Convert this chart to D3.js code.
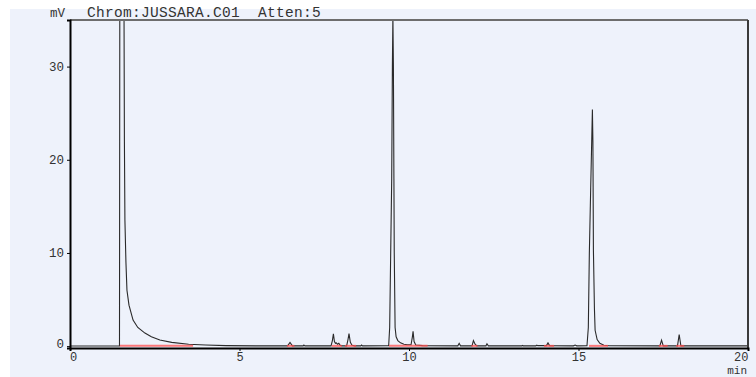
<!DOCTYPE html>
<html>
<head>
<meta charset="utf-8">
<script src="https://cdn.jsdelivr.net/npm/d3@7"></script>
<style>
    body { margin: 0; background: #fff; }
    svg { display: block; }
    text { font-family: "Liberation Mono", "DejaVu Sans Mono", monospace; fill: #333; }
</style>
</head>
<body>
<svg id="chrom" width="756" height="377"></svg>
<script>
"use strict";

const left = 70;
const top_ = 20;
const right = 748;
const bottom = 348;

// chromatogram trace (min, mV)
const traceTime = [
    0, 1.46, 1.47, 1.59, 1.605, 1.62, 1.65, 1.68, 1.74, 1.86, 2.0, 2.21, 2.4, 2.65, 3.0, 3.5, 4.0, 4.6, 5.5,
    6.42, 6.49, 6.56, 6.88, 6.9, 6.93,
    7.70, 7.74, 7.77, 7.80, 7.83, 7.86, 7.89, 7.93, 7.97, 8.02,
    8.16, 8.20, 8.23, 8.27, 8.32, 8.4, 8.58, 8.6, 8.63,
    9.40, 9.43, 9.46, 9.49, 9.51, 9.525, 9.54, 9.555, 9.565, 9.59, 9.62, 9.67, 9.75, 9.85, 9.95,
    10.06, 10.1, 10.12, 10.15, 10.2, 10.4,
    11.44, 11.48, 11.52, 11.86, 11.9, 11.95, 12.0, 12.27, 12.3, 12.34,
    13.33, 13.35, 13.37, 13.74, 13.77, 13.8, 14.05, 14.1, 14.15, 14.85, 14.9, 14.95,
    15.25, 15.29, 15.32, 15.36, 15.39, 15.41, 15.425, 15.44, 15.47, 15.49, 15.55, 15.63, 15.75, 15.9,
    17.40, 17.45, 17.5, 17.92, 17.97, 18.02, 20
];
const traceMv = [
    0.02, 0.02, 40, 40, 22, 13.5, 9, 6.0, 4.4, 2.8, 2.0, 1.4, 1.0, 0.65, 0.4, 0.2, 0.12, 0.06, 0.03,
    0.03, 0.4, 0.03, 0.03, 0.12, 0.03,
    0.03, 0.6, 1.33, 0.5, 0.3, 0.35, 0.2, 0.3, 0.1, 0.03,
    0.03, 0.7, 1.35, 0.4, 0.1, 0.03, 0.03, 0.12, 0.03,
    0.05, 2, 10, 18, 30, 35.4, 30, 18, 10, 2, 1.0, 0.6, 0.35, 0.2, 0.15,
    0.15, 1.0, 1.6, 0.5, 0.12, 0.05,
    0.03, 0.3, 0.03, 0.03, 0.6, 0.2, 0.03, 0.03, 0.25, 0.03,
    0.03, 0.08, 0.03, 0.03, 0.1, 0.05, 0.05, 0.35, 0.05, 0.03, 0.12, 0.03,
    0.05, 2, 10, 17, 22, 25.4, 22, 10.3, 4, 1.7, 0.7, 0.3, 0.1, 0.04,
    0.03, 0.65, 0.03, 0.03, 1.25, 0.03, 0.03
];

// integration baselines (red), start / end in min
const baseStart = [1.47, 6.40, 7.72, 8.11, 9.41, 11.84, 13.98, 15.31, 17.37, 17.88];
const baseEnd   = [3.63, 6.62, 8.02, 8.44, 10.55, 12.02, 14.28, 15.87, 17.63, 18.12];

const xTicks = [0, 5, 10, 15, 20];
const yTicks = [0, 10, 20, 30];

const svg = d3.select("svg#chrom");

// background panel
svg.append("rect")
    .attr("x", 10).attr("y", 9)
    .attr("width", 746).attr("height", 368)
    .attr("fill", "#eef2fb");

const xScale = d3.scaleLinear().domain([0, 20]).range([left, right]);
const yScale = d3.scaleLinear().domain([-0.2, 35]).range([bottom, top_]);

svg.append("clipPath").attr("id", "plot-clip")
    .append("rect")
    .attr("x", left).attr("y", top_)
    .attr("width", right - left).attr("height", bottom - top_);

const points = traceTime.map((t, i) => [t, traceMv[i]]);
const line = d3.line()
    .x(d => xScale(d[0]))
    .y(d => yScale(d[1]));

const plot = svg.append("g").attr("clip-path", "url(#plot-clip)");

plot.append("path")
    .datum(points)
    .attr("d", line)
    .attr("fill", "none")
    .attr("stroke", "#2a2a2a")
    .attr("stroke-width", 1.1);

plot.selectAll("line.base")
    .data(baseStart)
    .join("line")
    .attr("class", "base")
    .attr("x1", d => xScale(d))
    .attr("x2", (d, i) => xScale(baseEnd[i]))
    .attr("y1", yScale(0.03))
    .attr("y2", yScale(0.03))
    .attr("stroke", "#ff4d4d")
    .attr("stroke-opacity", 0.75)
    .attr("stroke-width", 2);

// frame
svg.append("line")
    .attr("x1", left).attr("x2", right).attr("y1", top_).attr("y2", top_)
    .attr("stroke", "#6d6d6d").attr("stroke-width", 2);
svg.append("line")
    .attr("x1", right).attr("x2", right).attr("y1", top_).attr("y2", bottom)
    .attr("stroke", "#3a3a3a").attr("stroke-width", 2);

// axes
const xAxis = d3.axisBottom(xScale)
    .tickValues(xTicks)
    .tickSize(3)
    .tickPadding(1)
    .tickFormat(d3.format("d"));
const gx = svg.append("g")
    .attr("transform", `translate(0,${bottom})`)
    .call(xAxis);
gx.select(".domain").attr("stroke", "#000").attr("stroke-width", 2);
gx.selectAll(".tick line").attr("stroke", "#000");
gx.selectAll(".tick text")
    .attr("font-size", 12)
    .attr("font-family", "Liberation Mono");
gx.selectAll(".tick text").filter(d => d === 20)
    .attr("text-anchor", "end")
    .attr("x", 0);
gx.selectAll(".tick text").filter(d => d === 0)
    .attr("x", 3);

const yAxis = d3.axisLeft(yScale)
    .tickValues(yTicks)
    .tickSize(3)
    .tickPadding(3)
    .tickFormat(d3.format("d"));
const gy = svg.append("g")
    .attr("transform", `translate(${left},0)`)
    .call(yAxis);
gy.select(".domain").attr("stroke", "#000").attr("stroke-width", 2);
gy.selectAll(".tick line").attr("stroke", "#000");
gy.selectAll(".tick text")
    .attr("font-size", 12.5)
    .attr("font-family", "Liberation Mono");
gy.selectAll(".tick text").filter(d => d === 0)
    .attr("dy", "0.1em");

// labels
svg.append("text")
    .attr("x", right - 1).attr("y", 373.5)
    .attr("text-anchor", "end")
    .attr("font-size", 11)
    .text("min");
svg.append("text")
    .attr("x", 65).attr("y", 17)
    .attr("text-anchor", "end")
    .attr("font-size", 12.5)
    .text("mV");
svg.append("text")
    .attr("x", 87).attr("y", 17)
    .attr("font-size", 14.5)
    .attr("letter-spacing", 0.3)
    .attr("xml:space", "preserve")
    .style("white-space", "pre")
    .text("Chrom:JUSSARA.C01  Atten:5");
</script>
</body>
</html>
